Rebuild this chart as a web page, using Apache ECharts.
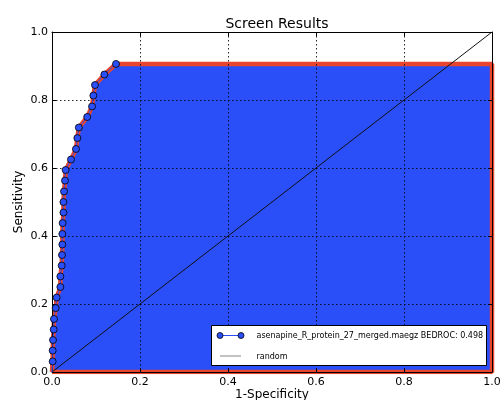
<!DOCTYPE html>
<html><head><meta charset="utf-8">
<script src="https://cdn.jsdelivr.net/npm/echarts@6/dist/echarts.min.js"></script>
<style>html,body{margin:0;padding:0;background:#fff}#c{width:504px;height:400px}</style>
</head><body><div id="c"></div>
<script>
var fpr = [0, 0.0015, 0.0015, 0.0023, 0.0038, 0.0045, 0.0083, 0.0106, 0.019, 0.019, 0.022, 0.0227, 0.0235, 0.0235, 0.0242, 0.026, 0.026, 0.0273, 0.0295, 0.031, 0.0432, 0.0545, 0.0576, 0.061, 0.080, 0.091, 0.094, 0.0977, 0.119, 0.1455];
var tpr = [0, 0.031, 0.063, 0.094, 0.125, 0.156, 0.188, 0.219, 0.25, 0.281, 0.313, 0.344, 0.375, 0.406, 0.438, 0.469, 0.5, 0.531, 0.563, 0.594, 0.625, 0.656, 0.688, 0.719, 0.75, 0.781, 0.813, 0.844, 0.875, 0.906];
var randomX = [0, 1];
var randomY = [0, 1];
var ticks = [0, 0.2, 0.4, 0.6, 0.8, 1.0];
var seriesName = 'asenapine_R_protein_27_merged.maegz BEDROC: 0.498';
var randomName = 'random';
var titleText = 'Screen Results';
var xName = '1-Specificity';
var yName = 'Sensitivity';

var curve = fpr.map(function (x, i) { return [x, tpr[i]]; });
var poly = curve.concat([[1, tpr[tpr.length - 1]], [1, 0], [0, 0]]);
var markers = curve.map(function (p, i) { return i === 0 ? { value: p, symbol: 'none' } : p; });
var diag = randomX.map(function (x, i) { return [x, randomY[i]]; });

var FONT = 'DejaVu Sans';
var BLUE = '#2a4ef8';
var RED = '#e8452f';

function axisBase(pos, showLabel, isX) {
  return {
    type: 'value', min: ticks[0], max: ticks[ticks.length - 1], interval: 0.2, position: pos, z: 2,
    nameMoveOverlap: false,
    axisLine: { show: true, onZero: false, lineStyle: { color: '#000', width: 1 } },
    axisTick: { show: true, inside: true, length: 4, lineStyle: { color: '#000' } },
    axisLabel: { show: showLabel, color: '#000', fontFamily: FONT, fontSize: 11, margin: isX ? 5 : 4,
      formatter: function (v) { return v.toFixed(1); } },
    splitLine: { show: showLabel, lineStyle: { color: 'rgba(0,0,0,0.85)', type: [1.5, 2.5], width: 1 } }
  };
}
var x0 = axisBase('bottom', true, true);
x0.name = xName; x0.nameLocation = 'middle'; x0.nameGap = 17;
x0.nameTextStyle = { fontFamily: FONT, fontSize: 12, color: '#000' };
var y0 = axisBase('left', true, false);
y0.name = yName; y0.nameLocation = 'middle'; y0.nameGap = 27; y0.nameRotate = 90;
y0.nameTextStyle = { fontFamily: FONT, fontSize: 12, color: '#000' };
var x1 = axisBase('top', false, true);
var y1 = axisBase('right', false, false);

var chart = echarts.init(document.getElementById('c'), null, { renderer: 'canvas' });
chart.setOption({
  animation: false,
  backgroundColor: '#fff',
  title: { text: titleText, left: 272, top: 12, textAlign: 'center',
    textStyle: { fontFamily: FONT, fontSize: 14, fontWeight: 'normal', color: '#000' } },
  grid: { left: 52, right: 12, top: 32, bottom: 28, containLabel: false, outerBoundsMode: 'none' },
  xAxis: [x0, x1],
  yAxis: [y0, y1],
  series: [
    { type: 'line', data: poly, z: 1, symbol: 'none', clip: true, silent: true,
      lineStyle: { color: RED, width: 4.5 }, areaStyle: { color: BLUE, opacity: 1 } },
    { type: 'line', name: randomName, data: diag, z: 3, symbol: 'none', clip: true,
      lineStyle: { color: '#111', width: 1 } },
    { type: 'line', name: seriesName, data: markers, z: 4, symbol: 'circle', symbolSize: 7, clip: true,
      lineStyle: { color: BLUE, width: 1 },
      itemStyle: { color: BLUE, borderColor: '#000', borderWidth: 0.8 } }
  ],
  graphic: [
    { type: 'rect', z: 10, shape: { x: 211.5, y: 325.5, width: 275, height: 40 },
      style: { fill: '#fff', stroke: '#000', lineWidth: 1 } },
    { type: 'line', z: 11, shape: { x1: 220, y1: 335.5, x2: 241, y2: 335.5 }, style: { stroke: BLUE, lineWidth: 1 } },
    { type: 'circle', z: 12, shape: { cx: 220, cy: 335.5, r: 3 }, style: { fill: BLUE, stroke: '#000', lineWidth: 0.8 } },
    { type: 'circle', z: 12, shape: { cx: 241, cy: 335.5, r: 3 }, style: { fill: BLUE, stroke: '#000', lineWidth: 0.8 } },
    { type: 'text', z: 12, style: { x: 256.5, y: 336, text: seriesName, fill: '#000', font: '8px "DejaVu Sans"', textVerticalAlign: 'middle', verticalAlign: 'middle' } },
    { type: 'line', z: 11, shape: { x1: 220, y1: 356, x2: 241, y2: 356 }, style: { stroke: '#999', lineWidth: 1.2 } },
    { type: 'text', z: 12, style: { x: 256.5, y: 356.5, text: randomName, fill: '#000', font: '8px "DejaVu Sans"', textVerticalAlign: 'middle', verticalAlign: 'middle' } }
  ]
});
</script></body></html>
